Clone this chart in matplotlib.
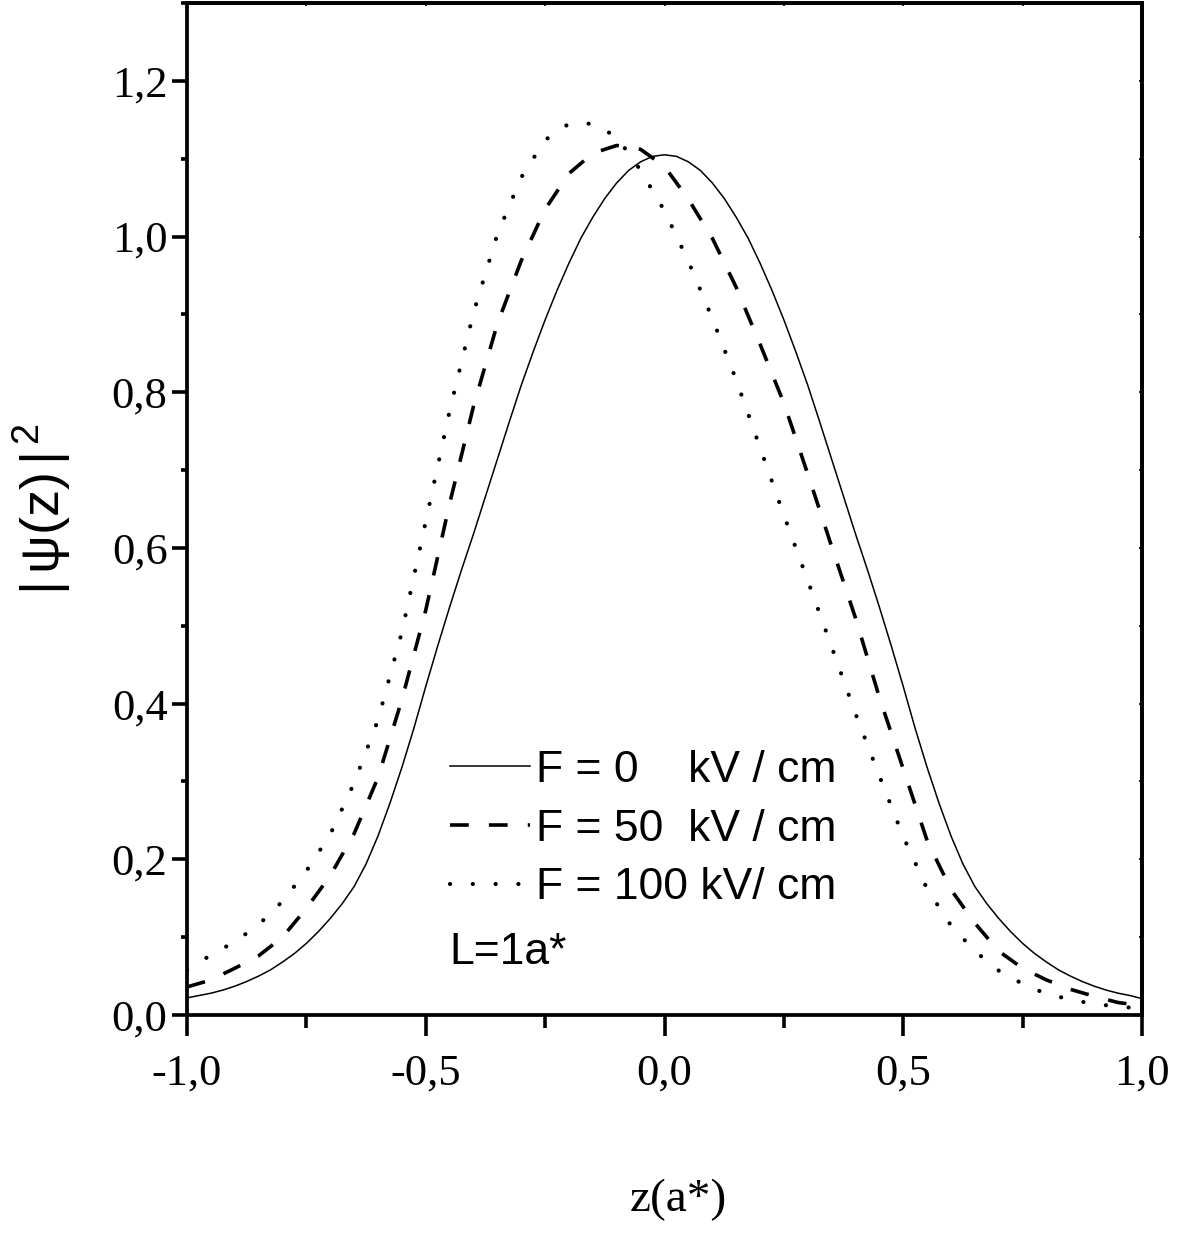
import matplotlib
matplotlib.use("Agg")
import matplotlib.pyplot as plt
from matplotlib.ticker import FixedLocator, MultipleLocator

# ---------------- data ----------------
# F = 0 kV/cm (solid), sampled every 0.025
z0 = [-1.000, -0.975, -0.950, -0.925, -0.900, -0.875, -0.850, -0.825, -0.800, -0.775,
      -0.750, -0.725, -0.700, -0.675, -0.650, -0.625, -0.600, -0.575, -0.550, -0.525,
      -0.500, -0.475, -0.450, -0.425, -0.400, -0.375, -0.350, -0.325, -0.300, -0.275,
      -0.250, -0.225, -0.200, -0.175, -0.150, -0.125, -0.100, -0.075, -0.050, -0.025,
      0.000, 0.025, 0.050, 0.075, 0.100, 0.125, 0.150, 0.175, 0.200, 0.225,
      0.250, 0.275, 0.300, 0.325, 0.350, 0.375, 0.400, 0.425, 0.450, 0.475,
      0.500, 0.525, 0.550, 0.575, 0.600, 0.625, 0.650, 0.675, 0.700, 0.725,
      0.750, 0.775, 0.800, 0.825, 0.850, 0.875, 0.900, 0.925, 0.950, 0.975, 1.000]
psi_F0 = [0.022, 0.025, 0.028, 0.032, 0.037, 0.043, 0.050, 0.058, 0.068, 0.079,
          0.092, 0.107, 0.124, 0.143, 0.165, 0.194, 0.230, 0.272, 0.318, 0.368,
          0.422, 0.474, 0.524, 0.572, 0.618, 0.666, 0.714, 0.762, 0.809, 0.852,
          0.893, 0.931, 0.966, 0.998, 1.025, 1.049, 1.069, 1.085, 1.096, 1.103,
          1.105, 1.103, 1.096, 1.085, 1.069, 1.049, 1.025, 0.998, 0.966, 0.931,
          0.893, 0.852, 0.809, 0.762, 0.714, 0.666, 0.618, 0.572, 0.524, 0.474,
          0.422, 0.368, 0.318, 0.272, 0.230, 0.194, 0.165, 0.143, 0.124, 0.107,
          0.092, 0.079, 0.068, 0.058, 0.050, 0.043, 0.037, 0.032, 0.028, 0.025, 0.021]

# F = 50 and 100 kV/cm, sampled every 0.05
z = [-1.00, -0.95, -0.90, -0.85, -0.80, -0.75, -0.70, -0.65, -0.60, -0.55,
     -0.50, -0.45, -0.40, -0.35, -0.30, -0.25, -0.20, -0.15, -0.10, -0.05,
     0.00, 0.05, 0.10, 0.15, 0.20, 0.25, 0.30, 0.35, 0.40, 0.45,
     0.50, 0.55, 0.60, 0.65, 0.70, 0.75, 0.80, 0.85, 0.90, 0.95, 1.00]

psi_F50 = [0.036, 0.045, 0.060, 0.076, 0.100, 0.137, 0.179, 0.233, 0.305, 0.405,
           0.520, 0.657, 0.782, 0.888, 0.969, 1.035, 1.081, 1.107, 1.117, 1.112,
           1.090, 1.048, 0.998, 0.935, 0.862, 0.786, 0.695, 0.602, 0.510, 0.408,
           0.316, 0.224, 0.161, 0.118, 0.082, 0.060, 0.045, 0.033, 0.024, 0.016, 0.012]

psi_F100 = [0.058, 0.077, 0.094, 0.116, 0.146, 0.185, 0.232, 0.298, 0.379, 0.492,
            0.634, 0.776, 0.902, 1.003, 1.076, 1.124, 1.145, 1.145, 1.128, 1.085,
            1.033, 0.968, 0.895, 0.816, 0.729, 0.642, 0.558, 0.473, 0.387, 0.307,
            0.229, 0.162, 0.115, 0.082, 0.057, 0.040, 0.027, 0.020, 0.014, 0.011, 0.008]

labels = ["F = 0    kV / cm", "F = 50  kV / cm", "F = 100 kV/ cm"]
note = "L=1a*"

xticks = [-1.0, -0.5, 0.0, 0.5, 1.0]
xticklabels = ["-1,0", "-0,5", "0,0", "0,5", "1,0"]
yticks = [0.0, 0.2, 0.4, 0.6, 0.8, 1.0, 1.2]
yticklabels = ["0,0", "0,2", "0,4", "0,6", "0,8", "1,0", "1,2"]

# ---------------- figure ----------------
plt.rcParams['lines.scale_dashes'] = False
plt.rcParams['mathtext.fontset'] = 'custom'
plt.rcParams['mathtext.rm'] = 'Liberation Sans'
plt.rcParams['mathtext.it'] = 'Liberation Sans'
plt.rcParams['mathtext.bf'] = 'Liberation Sans:bold'

fig = plt.figure(figsize=(11.98, 12.34), dpi=100)
ax = fig.add_axes([187/1198, 1 - 1015/1234, (1142-187)/1198, (1015-3)/1234])

l0, = ax.plot(z0, psi_F0, color='black', lw=1.1, solid_joinstyle='round')
l1, = ax.plot(z, psi_F50, color='black', lw=2.6, dashes=(13.5, 14.5))
l2, = ax.plot(z, psi_F100, color='black', lw=3.0, dashes=(0.1, 16.3),
              dash_capstyle='round')

ax.set_xlim(-1.0, 1.0)
ax.set_ylim(0.0, 1.3)

for s in ax.spines.values():
    s.set_linewidth(2.7)

ax.xaxis.set_major_locator(FixedLocator(xticks))
ax.set_xticklabels(xticklabels)
ax.xaxis.set_minor_locator(MultipleLocator(0.25))
ax.yaxis.set_major_locator(FixedLocator(yticks))
ax.set_yticklabels(yticklabels)
ax.yaxis.set_minor_locator(MultipleLocator(0.1))

for t in ax.get_xticklabels() + ax.get_yticklabels():
    t.set_fontfamily('Liberation Serif')
    t.set_fontsize(32)

ax.tick_params(axis='x', which='major', direction='out', length=15, width=2.6, pad=13)
ax.tick_params(axis='x', which='minor', direction='out', length=9, width=2.6)
ax.tick_params(axis='y', which='major', direction='out', length=11, width=2.6, pad=3)
ax.tick_params(axis='y', which='minor', direction='out', length=4.5, width=2.6)

# small inward ticks on top and right
top = ax.secondary_xaxis('top')
top.xaxis.set_major_locator(MultipleLocator(0.25))
top.tick_params(direction='in', length=2.5, width=1.2, labeltop=False)
top.spines['top'].set_linewidth(2.7)
right = ax.secondary_yaxis('right')
right.yaxis.set_major_locator(MultipleLocator(0.1))
right.tick_params(direction='in', length=2.5, width=1.2, labelright=False)
right.spines['right'].set_linewidth(2.7)

ax.set_xlabel("z(a*)", fontfamily='Liberation Serif', fontsize=34)
ax.xaxis.set_label_coords(0.515, -0.162)
ax.set_ylabel(r"$|\,\psi(z)\,|^{\,2}$", fontsize=39)
ax.yaxis.set_label_coords(-0.119, 0.5)

leg = ax.legend([l0, l1, l2], labels, loc='upper left',
                bbox_to_anchor=(0.275, 0.262), frameon=False,
                prop={'family': 'Liberation Sans', 'size': 32},
                handlelength=1.8, handletextpad=0.15, labelspacing=0.4,
                borderpad=0, borderaxespad=0)

ax.text(0.275, 0.062, note, transform=ax.transAxes, family='Liberation Sans',
        fontsize=32, ha='left', va='center')

fig.savefig("out.png", dpi=100)
